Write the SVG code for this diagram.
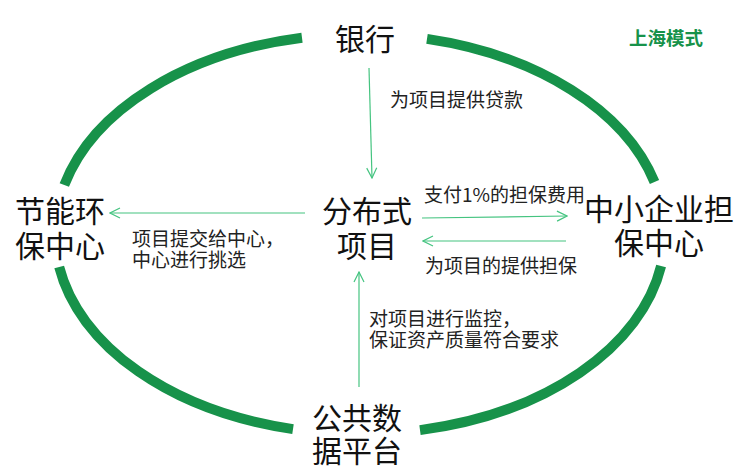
<svg xmlns="http://www.w3.org/2000/svg" width="754" height="469" viewBox="0 0 754 469">
<defs>
<style>
.ring{fill:none;stroke:#17924a;stroke-width:10;stroke-linecap:butt}
.big{font-family:"Noto Sans CJK SC","Noto Sans",sans-serif;font-size:30px;fill:#111}
.lbl{font-family:"Noto Sans CJK SC","Noto Sans",sans-serif;font-size:19px;fill:#222}
.title{font-family:"Noto Sans CJK SC","Noto Sans",sans-serif;font-size:18.5px;font-weight:bold;fill:#17924a}
.conn{fill:none;stroke:#45c480;stroke-width:1.2}
</style>
<marker id="arr" viewBox="0 0 12 12" refX="11" refY="6" markerWidth="12" markerHeight="12" markerUnits="userSpaceOnUse" orient="auto">
<path d="M1,1 L11,6 L1,11" fill="none" stroke="#45c480" stroke-width="1.2"/>
</marker>
</defs>
<rect width="754" height="469" fill="#ffffff"/>
<g id="ring">
<path class="ring" d="M654.5,182 A305,200 0 0 0 427,38.9"/>
<path class="ring" d="M302,37.7 A305,200 0 0 0 64.3,185"/>
<path class="ring" d="M59.2,267 A305,200 0 0 0 293,429.1"/>
<path class="ring" d="M420,430.1 A305,200 0 0 0 661.1,266"/>
</g>
<text class="title" x="629" y="45">上海模式</text>
<g id="connectors">
<line class="conn" x1="369" y1="68" x2="372" y2="178" marker-end="url(#arr)"/>
<line class="conn" x1="305" y1="213" x2="110" y2="213" marker-end="url(#arr)"/>
<line class="conn" x1="422" y1="218" x2="567" y2="216" marker-end="url(#arr)"/>
<line class="conn" x1="566" y1="241" x2="423" y2="241" marker-end="url(#arr)"/>
<line class="conn" x1="359" y1="387" x2="359" y2="272" marker-end="url(#arr)"/>
<text class="lbl" x="390" y="107">为项目提供贷款</text>
<text class="lbl" x="132" y="246">项目提交给中心，</text>
<text class="lbl" x="132" y="267">中心进行挑选</text>
<text class="lbl" x="424" y="202">支付1%的担保费用</text>
<text class="lbl" x="425" y="273">为项目的提供担保</text>
<text class="lbl" x="369" y="326">对项目进行监控，</text>
<text class="lbl" x="369" y="347">保证资产质量符合要求</text>
</g>
<g id="bank"><text class="big" x="335" y="50">银行</text></g>
<g id="energy-center"><text class="big" x="15" y="222">节能环</text><text class="big" x="15" y="257">保中心</text></g>
<g id="project"><text class="big" x="367" y="222" text-anchor="middle">分布式</text><text class="big" x="367" y="257" text-anchor="middle">项目</text></g>
<g id="guarantee-center"><text class="big" x="659" y="220" text-anchor="middle">中小企业担</text><text class="big" x="659" y="254" text-anchor="middle">保中心</text></g>
<g id="data-platform"><text class="big" x="312" y="429">公共数</text><text class="big" x="312" y="462">据平台</text></g>
</svg>
